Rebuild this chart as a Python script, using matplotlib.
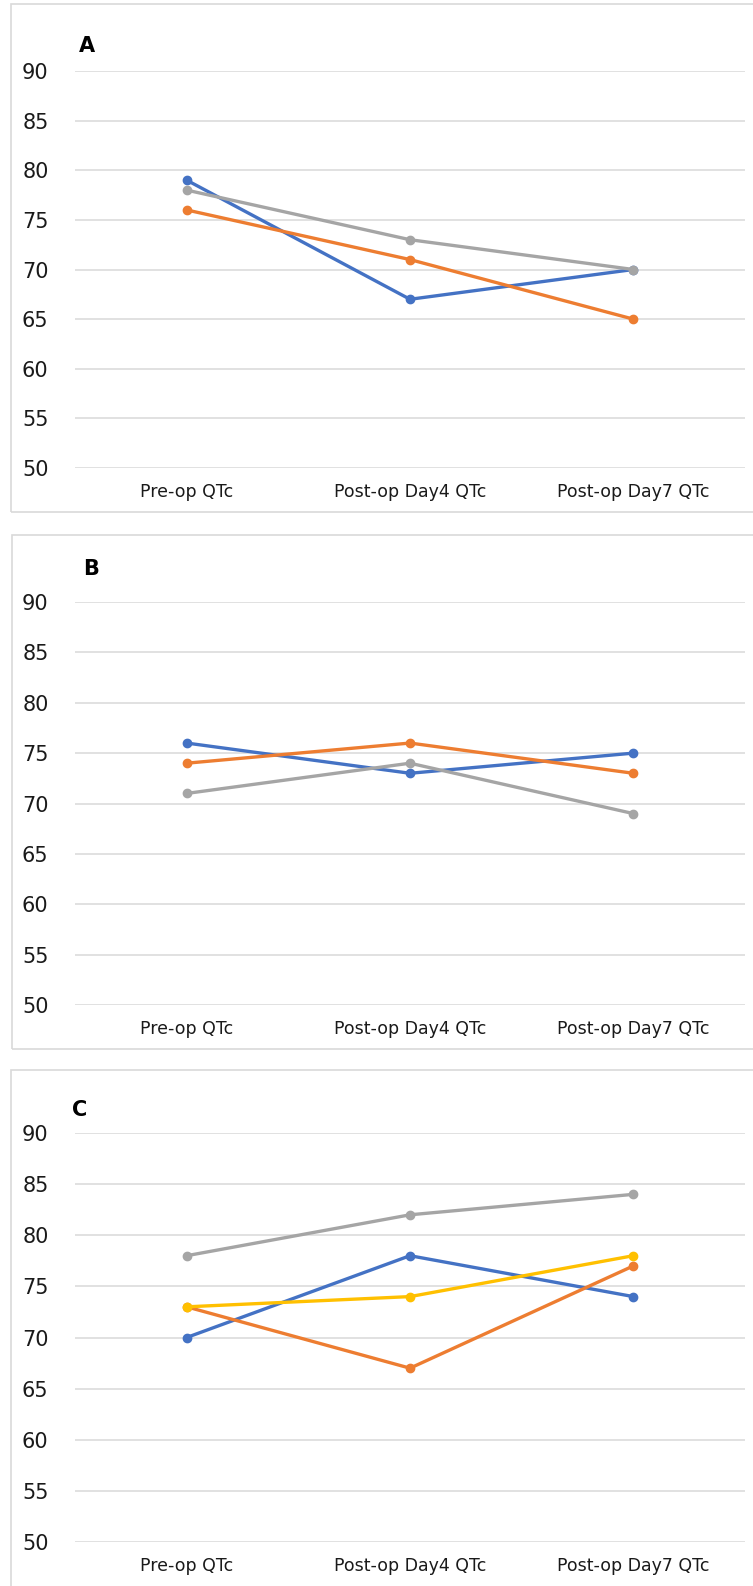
import matplotlib.pyplot as plt
from matplotlib.patches import Rectangle

# categories and series (QTc values)
Labels = ['Pre-op QTc', 'Post-op Day4 QTc', 'Post-op Day7 QTc']

A_blue = [79, 67, 70]
A_orange = [76, 71, 65]
A_gray = [78, 73, 70]

B_blue = [76, 73, 75]
B_orange = [74, 76, 73]
B_gray = [71, 74, 69]

C_blue = [70, 78, 74]
C_orange = [73, 67, 77]
C_gray = [78, 82, 84]
C_yellow = [73, 74, 78]

YTicks = [50, 55, 60, 65, 70, 75, 80, 85, 90]

# excel default colours
blue = '#4472C4'
orange = '#ED7D31'
gray = '#A5A5A5'
yellow = '#FFC000'

W, H = 753, 1586
fig = plt.figure(figsize=(W / 100, H / 100), dpi=100)

def px(x, y):
    # pixel (from top-left) -> figure fraction
    return x / W, 1 - y / H

# panel frames (light gray boxes)
for x0, y0, y1 in [(11, 4, 512), (12, 535, 1049), (11, 1070, 1610)]:
    fx, fy = px(x0, y1)
    fig.patches.append(Rectangle((fx, fy), (800 - x0) / W, (y1 - y0) / H,
                                 transform=fig.transFigure, fill=False,
                                 ec='#D9D9D9', lw=1.2))

def panel(top, bottom, letter, lx, ly, series):
    ax = fig.add_axes([75 / W, 1 - bottom / H, 670 / W, (bottom - top) / H])
    x = list(range(len(Labels)))
    for vals, c in series:
        ax.plot(x, vals, color=c, lw=2.4, marker='o', ms=6, solid_capstyle='round')
    ax.set_xlim(-0.5, 2.5)
    ax.set_ylim(50, 90)
    ax.set_yticks(YTicks)
    ax.set_xticks(x)
    ax.set_xticklabels(Labels, fontsize=12.5, color='#1a1a1a')
    ax.tick_params(axis='y', length=0, pad=19, labelsize=15, labelcolor='#1a1a1a')
    ax.tick_params(axis='x', length=0, pad=11)
    ax.grid(axis='y', color='#D9D9D9', lw=1.1)
    ax.set_axisbelow(True)
    for s in ax.spines.values():
        s.set_visible(False)
    fig.text(lx / W, 1 - ly / H, letter, fontsize=15, fontweight='bold',
             ha='left', va='center')
    return ax

panel(71, 468, 'A', 79, 46, [(A_blue, blue), (A_orange, orange), (A_gray, gray)])
panel(602, 1005, 'B', 83, 569, [(B_blue, blue), (B_orange, orange), (B_gray, gray)])
panel(1133, 1542, 'C', 72, 1110, [(C_blue, blue), (C_orange, orange), (C_gray, gray),
                                  (C_yellow, yellow)])

fig.savefig('out.png', dpi=100, facecolor='white')
